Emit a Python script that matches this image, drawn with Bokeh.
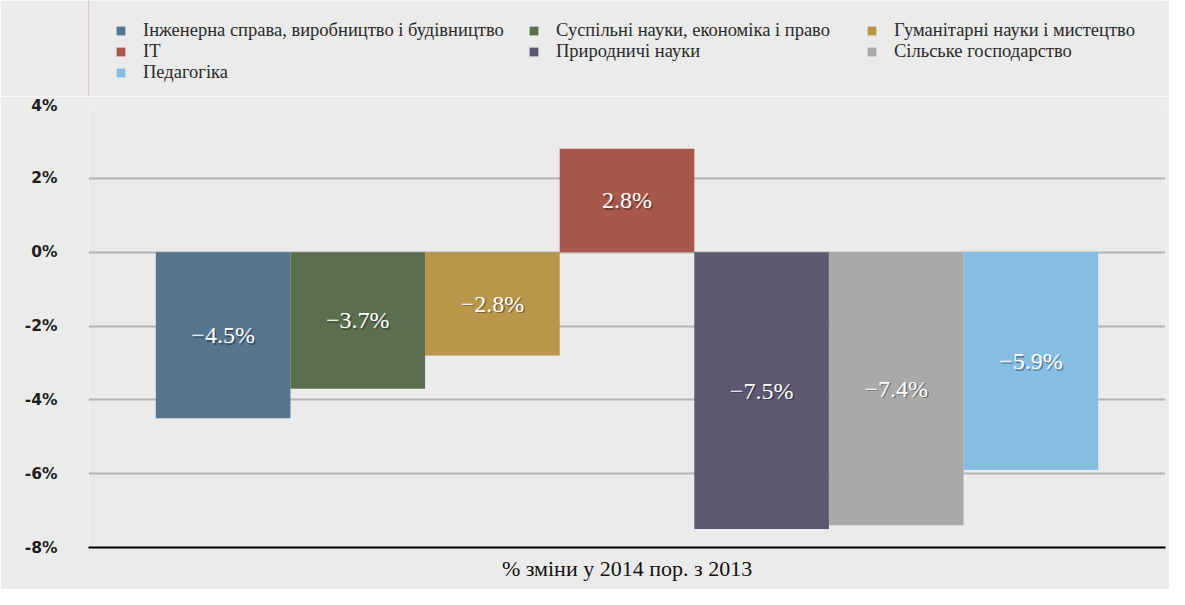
from bokeh.plotting import figure
from bokeh.layouts import column
from bokeh.models import ColumnDataSource, Legend, LegendItem, FixedTicker, PrintfTickFormatter, Range1d
from bokeh.core.properties import value
from bokeh.embed import file_html
from bokeh.resources import INLINE

categories = ["Інженерна справа, виробництво і будівництво", "Суспільні науки, економіка і право",
              "Гуманітарні науки і мистецтво", "IT", "Природничі науки", "Сільське господарство", "Педагогіка"]
values = [-4.5, -3.7, -2.8, 2.8, -7.5, -7.4, -5.9]
labels = ["−4.5%", "−3.7%", "−2.8%", "2.8%", "−7.5%", "−7.4%", "−5.9%"]
colors = ["#56758f", "#5b6f4e", "#b8964a", "#a8584a", "#5d5770", "#a9a9a9", "#86bde3"]
y_ticks = [-8, -6, -4, -2, 0, 2, 4]
x_title = "% зміни у 2014 пор. з 2013"

BG = "#ebebeb"
W = 1169
TOP_H = 96
LEFT = 88

# ---- main chart ----
p = figure(width=W, height=589 - TOP_H, output_backend="svg", toolbar_location=None,
           x_range=Range1d(0, 8), y_range=Range1d(-8, 4),
           min_border_left=LEFT, min_border_right=4, min_border_top=8, min_border_bottom=42,
           background_fill_color=BG, border_fill_color=BG, outline_line_color=None)

xs = list(range(1, len(values) + 1))
src = ColumnDataSource(dict(x=xs, top=values, color=colors, label=labels,
                            mid=[v / 2 for v in values]))

p.ygrid.ticker = FixedTicker(ticks=y_ticks)
p.ygrid.grid_line_color = "#b4b4b4"
p.ygrid.grid_line_width = 2
p.xgrid.grid_line_color = None

p.vbar(x="x", top="top", bottom=0, width=1.0, color="color", line_color=None, source=src)

p.text(x="x", y="mid", text="label", source=src, text_align="center", text_baseline="middle",
       text_font=value("Liberation Serif"), text_font_size="24px", text_color="black", text_alpha=0.35,
       x_offset=1.5, y_offset=1.5)
p.text(x="x", y="mid", text="label", source=src, text_align="center", text_baseline="middle",
       text_font=value("Liberation Serif"), text_font_size="24px", text_color="white")

p.yaxis.ticker = FixedTicker(ticks=y_ticks)
p.yaxis.formatter = PrintfTickFormatter(format="%d%%")
p.yaxis.axis_line_color = None
p.yaxis.major_tick_line_color = None
p.yaxis.minor_tick_line_color = None
p.yaxis.major_label_text_font = "DejaVu Sans"
p.yaxis.major_label_text_font_style = "bold"
p.yaxis.major_label_text_font_size = "15.5px"
p.yaxis.major_label_text_color = "#1e1e1e"
p.yaxis.major_label_standoff = 25

p.xaxis.ticker = FixedTicker(ticks=[])
p.xaxis.axis_line_color = "black"
p.xaxis.axis_line_width = 2
p.xaxis.major_tick_line_color = None
p.xaxis.minor_tick_line_color = None
p.xaxis.axis_label = x_title
p.xaxis.axis_label_text_font = "Liberation Serif"
p.xaxis.axis_label_text_font_style = "normal"
p.xaxis.axis_label_text_font_size = "22px"
p.xaxis.axis_label_text_color = "#111111"
p.xaxis.axis_label_standoff = 8

# ---- legend strip ----
lg = figure(width=W, height=TOP_H, output_backend="svg", toolbar_location=None,
            x_range=Range1d(0, 1), y_range=Range1d(0, 1),
            min_border_left=LEFT, min_border_right=4, min_border_top=0, min_border_bottom=0,
            x_axis_location=None, y_axis_location=None,
            background_fill_color=BG, border_fill_color=BG, outline_line_color=None)
lg.xgrid.visible = False
lg.ygrid.visible = False

leg_renderers = []
for i in range(len(values)):
    leg_renderers.append(lg.vbar(x=[-10], top=[values[i]], bottom=[0], width=1.0,
                                 color=colors[i], line_color=None))

legend_cols = [[0, 3, 6], [1, 4], [2, 5]]
legend_x = [115 - LEFT, 528 - LEFT, 866 - LEFT]
ROW = 21
top_y = TOP_H - 20
for col, lx in zip(legend_cols, legend_x):
    items = [LegendItem(label=categories[i], renderers=[leg_renderers[i]]) for i in col]
    leg = Legend(items=items, location=(lx, top_y - ROW * len(col)), orientation="vertical",
                 background_fill_alpha=0, border_line_color=None,
                 label_text_font="Liberation Serif", label_text_font_size="18.5px",
                 label_text_color="#2a2a2a", glyph_width=11, glyph_height=11,
                 label_standoff=17, spacing=0, padding=0, margin=0, label_height=ROW)
    lg.add_layout(leg, "center")

layout = column(lg, p, spacing=0)
open("out.html", "w").write(file_html(layout, INLINE))
